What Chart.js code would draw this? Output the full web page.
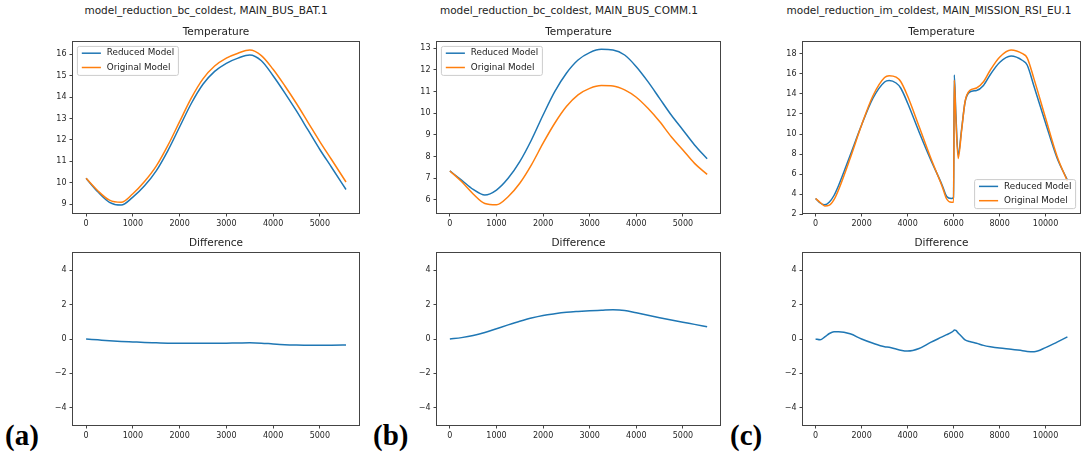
<!DOCTYPE html>
<html>
<head>
<meta charset="utf-8">
<script src="https://cdn.jsdelivr.net/npm/chart.js@4.4.0/dist/chart.umd.min.js"></script>
<style>
  body { margin: 0; background: #fff; width: 1081px; height: 458px; position: relative; overflow: hidden; }
  canvas { position: absolute; }
  .sup { position: absolute; top: 4px; font: 10.5px "DejaVu Sans", sans-serif; line-height: 12px; color: #222; white-space: nowrap; transform: translateX(-50%); }
  .lab { position: absolute; top: 421px; font: bold 29px "Liberation Serif", serif; line-height: 29px; color: #000; }
</style>
</head>
<body>
<div class="sup" style="left:206px">model_reduction_bc_coldest, MAIN_BUS_BAT.1</div>
<div class="sup" style="left:569px">model_reduction_bc_coldest, MAIN_BUS_COMM.1</div>
<div class="sup" style="left:929px">model_reduction_im_coldest, MAIN_MISSION_RSI_EU.1</div>
<div class="lab" style="left:5px">(a)</div>
<div class="lab" style="left:373px">(b)</div>
<div class="lab" style="left:730px">(c)</div>

<canvas id="tempA"></canvas>
<canvas id="tempB"></canvas>
<canvas id="tempC"></canvas>
<canvas id="diffA"></canvas>
<canvas id="diffB"></canvas>
<canvas id="diffC"></canvas>

<script>
// ---- data ----
const seriesNames = ["Reduced Model", "Original Model"];

// (a) MAIN_BUS_BAT.1
const timeA = [0, 250, 500, 750, 1000, 1250, 1500, 1750, 2000, 2250, 2500, 2750, 3000, 3250, 3500, 3750, 4000, 4250, 4500, 4750, 5000, 5250, 5560];
const reducedA = [10.20, 9.57, 9.08, 8.95, 9.32, 9.85, 10.55, 11.50, 12.60, 13.70, 14.60, 15.20, 15.58, 15.82, 15.97, 15.70, 15.00, 14.20, 13.35, 12.45, 11.55, 10.72, 9.68];
const originalA = [10.20, 9.62, 9.18, 9.08, 9.48, 10.05, 10.77, 11.74, 12.85, 13.95, 14.85, 15.45, 15.82, 16.05, 16.20, 15.94, 15.30, 14.53, 13.70, 12.81, 11.92, 11.08, 10.03];
const diffA = [0, -0.05, -0.10, -0.14, -0.17, -0.20, -0.22, -0.24, -0.25, -0.25, -0.25, -0.25, -0.24, -0.23, -0.22, -0.24, -0.29, -0.33, -0.35, -0.36, -0.37, -0.36, -0.35];

// (b) MAIN_BUS_COMM.1
const timeB = [0, 250, 500, 750, 1000, 1250, 1500, 1750, 2000, 2250, 2500, 2750, 3000, 3250, 3500, 3750, 4000, 4250, 4500, 4750, 5000, 5250, 5520];
const reducedB = [7.34, 6.92, 6.49, 6.23, 6.46, 7.00, 7.77, 8.77, 9.92, 11.00, 11.85, 12.46, 12.80, 12.95, 12.92, 12.69, 12.15, 11.46, 10.69, 9.92, 9.23, 8.54, 7.90];
const originalB = [7.34, 6.85, 6.28, 5.84, 5.78, 6.15, 6.77, 7.62, 8.62, 9.54, 10.31, 10.85, 11.15, 11.28, 11.26, 11.08, 10.74, 10.23, 9.62, 8.92, 8.31, 7.69, 7.18];
const diffB = [0, 0.08, 0.20, 0.38, 0.60, 0.82, 1.03, 1.22, 1.37, 1.47, 1.55, 1.60, 1.64, 1.67, 1.70, 1.66, 1.52, 1.38, 1.24, 1.10, 0.97, 0.85, 0.71];

// (c) MAIN_MISSION_RSI_EU.1
const timeC = [0, 200, 400, 600, 800, 1000, 1500, 2000, 2500, 3000, 3200, 3500, 3700, 4000, 4500, 5000, 5500, 5700, 5900, 6000, 6030, 6100, 6200, 6350, 6500, 6700, 7000, 7300, 7600, 8000, 8500, 9000, 9200, 9500, 10000, 10500, 10950];
const reducedC = [3.55, 3.10, 2.92, 3.20, 3.85, 4.85, 7.85, 10.90, 13.60, 15.20, 15.35, 15.10, 14.60, 13.10, 10.20, 7.45, 4.90, 3.75, 3.55, 3.65, 15.90, 12.00, 7.90, 10.50, 13.20, 14.20, 14.35, 14.85, 15.95, 17.15, 17.80, 17.35, 16.90, 14.75, 11.10, 7.60, 5.40];
const originalC = [3.55, 3.15, 2.80, 2.88, 3.43, 4.43, 7.55, 10.90, 13.85, 15.65, 15.83, 15.68, 15.25, 13.80, 10.75, 7.65, 4.78, 3.50, 3.17, 3.17, 15.38, 11.50, 7.55, 10.35, 13.25, 14.35, 14.60, 15.22, 16.40, 17.68, 18.40, 18.03, 17.62, 15.49, 11.60, 7.78, 5.28];
const diffC = [0, -0.05, 0.12, 0.32, 0.42, 0.42, 0.30, 0.00, -0.25, -0.45, -0.48, -0.58, -0.65, -0.70, -0.55, -0.20, 0.12, 0.25, 0.38, 0.48, 0.52, 0.50, 0.35, 0.15, -0.05, -0.15, -0.25, -0.37, -0.45, -0.53, -0.60, -0.68, -0.72, -0.74, -0.50, -0.18, 0.12];

// tick labels
const xTicksAB = [0, 1000, 2000, 3000, 4000, 5000];
const xTicksC = [0, 2000, 4000, 6000, 8000, 10000];
const yTicksA = [9, 10, 11, 12, 13, 14, 15, 16];
const yTicksB = [6, 7, 8, 9, 10, 11, 12, 13];
const yTicksC = [2, 4, 6, 8, 10, 12, 14, 16, 18];
const yTicksDiff = [-4, -2, 0, 2, 4];

// ---- look ----
const FONT = '"DejaVu Sans", sans-serif';
const BLUE = "#1f77b4";
const ORANGE = "#ff7f0e";
const Y_W = 40, X_H = 22, TITLE_H = 16, PAD_R = 1;

const cols = [{ l: 73, r: 359 }, { l: 437, r: 720 }, { l: 803, r: 1080 }];
const rows = [{ t: 42, b: 213 }, { t: 253, b: 425 }];

// full axes box, like matplotlib spines
const frame = {
    id: "frame",
    afterDatasetsDraw(chart) {
        const { ctx, chartArea: a } = chart;
        ctx.save();
        ctx.strokeStyle = "#444";
        ctx.lineWidth = 1;
        ctx.strokeRect(a.left - 0.5, a.top - 0.5, a.right - a.left + 1, a.bottom - a.top + 1);
        ctx.restore();
    }
};

// legend drawn inside the plot area
const boxLegend = {
    id: "boxLegend",
    afterDraw(chart, args, opts) {
        if (!opts.corner) return;
        const { ctx, chartArea: a } = chart;
        const w = 101, h = 29;
        const x = opts.corner === "tl" ? a.left + 4.4 : a.right - 4.4 - w;
        const y = opts.corner === "tl" ? a.top + 4.4 : a.bottom - 4.4 - h;
        ctx.save();
        ctx.beginPath();
        if (ctx.roundRect) ctx.roundRect(x, y, w, h, 2); else ctx.rect(x, y, w, h);
        ctx.fillStyle = "rgba(255,255,255,0.8)";
        ctx.fill();
        ctx.strokeStyle = "#cccccc";
        ctx.lineWidth = 1;
        ctx.stroke();
        ctx.font = "8.8px " + FONT;
        ctx.textBaseline = "middle";
        ctx.fillStyle = "#222";
        chart.data.datasets.forEach((ds, i) => {
            const cy = y + 6.8 + i * 14.3;
            ctx.strokeStyle = ds.borderColor;
            ctx.lineWidth = 1.5;
            ctx.beginPath();
            ctx.moveTo(x + 4.4, cy);
            ctx.lineTo(x + 23.5, cy);
            ctx.stroke();
            ctx.fillText(ds.label, x + 29.4, cy);
        });
        ctx.restore();
    }
};

function fmt(v) {
    return String(v).replace("-", "\u2212");
}

function axis(range, ticks, isY) {
    return {
        type: "linear",
        min: range[0],
        max: range[1],
        afterBuildTicks: s => { s.ticks = ticks.map(v => ({ value: v })); },
        afterFit: s => { if (isY) s.width = Y_W; else s.height = X_H; },
        grid: { drawOnChartArea: false, drawTicks: true, tickLength: 3.5, color: "#444", lineWidth: 1 },
        border: { display: false },
        ticks: {
            font: { family: FONT, size: 8 },
            color: "#262626",
            padding: 3,
            maxRotation: 0,
            autoSkip: false,
            callback: v => fmt(v)
        }
    };
}

function makePanel(id, col, row, title, times, series, xRange, xTicks, yRange, yTicks, corner) {
    const cv = document.getElementById(id);
    const w = col.r - col.l + Y_W + PAD_R;
    const h = row.b - row.t + TITLE_H + X_H;
    cv.width = w;
    cv.height = h;
    cv.style.width = w + "px";
    cv.style.height = h + "px";
    cv.style.left = (col.l - Y_W) + "px";
    cv.style.top = (row.t - TITLE_H) + "px";

    new Chart(cv, {
        type: "line",
        data: {
            datasets: series.map(s => ({
                label: s.label,
                data: times.map((t, i) => ({ x: t, y: s.values[i] })),
                borderColor: s.color,
                borderWidth: 1.5,
                pointRadius: 0,
                cubicInterpolationMode: "monotone",
                fill: false,
                order: s.order
            }))
        },
        options: {
            responsive: false,
            animation: false,
            devicePixelRatio: 1,
            layout: { padding: { left: 0, right: PAD_R, top: 0, bottom: 0 } },
            scales: {
                x: axis(xRange, xTicks, false),
                y: axis(yRange, yTicks, true)
            },
            plugins: {
                legend: { display: false },
                tooltip: { enabled: false },
                title: {
                    display: true,
                    text: title,
                    fullSize: false,
                    color: "#222",
                    font: { family: FONT, size: 10.5, weight: "normal" },
                    padding: { top: 0, bottom: 3.4 }
                },
                boxLegend: { corner: corner }
            }
        },
        plugins: [frame, boxLegend]
    });
}

function temps(reduced, original) {
    return [
        { label: seriesNames[0], values: reduced, color: BLUE, order: 1 },
        { label: seriesNames[1], values: original, color: ORANGE, order: 0 }
    ];
}
function diffs(values) {
    return [{ label: "Difference", values: values, color: BLUE, order: 0 }];
}

const xRangeA = [-280, 5838];
const xRangeB = [-276, 5796];
const xRangeC = [-548, 11498];

makePanel("tempA", cols[0], rows[0], "Temperature", timeA, temps(reducedA, originalA), xRangeA, xTicksAB, [8.58, 16.575], yTicksA, "tl");
makePanel("tempB", cols[1], rows[0], "Temperature", timeB, temps(reducedB, originalB), xRangeB, xTicksAB, [5.40, 13.29], yTicksB, "tl");
makePanel("tempC", cols[2], rows[0], "Temperature", timeC, temps(reducedC, originalC), xRangeC, xTicksC, [2.1, 19.2], yTicksC, "br");
makePanel("diffA", cols[0], rows[1], "Difference", timeA, diffs(diffA), xRangeA, xTicksAB, [-5, 5], yTicksDiff, null);
makePanel("diffB", cols[1], rows[1], "Difference", timeB, diffs(diffB), xRangeB, xTicksAB, [-5, 5], yTicksDiff, null);
makePanel("diffC", cols[2], rows[1], "Difference", timeC, diffs(diffC), xRangeC, xTicksC, [-5, 5], yTicksDiff, null);
</script>
</body>
</html>
